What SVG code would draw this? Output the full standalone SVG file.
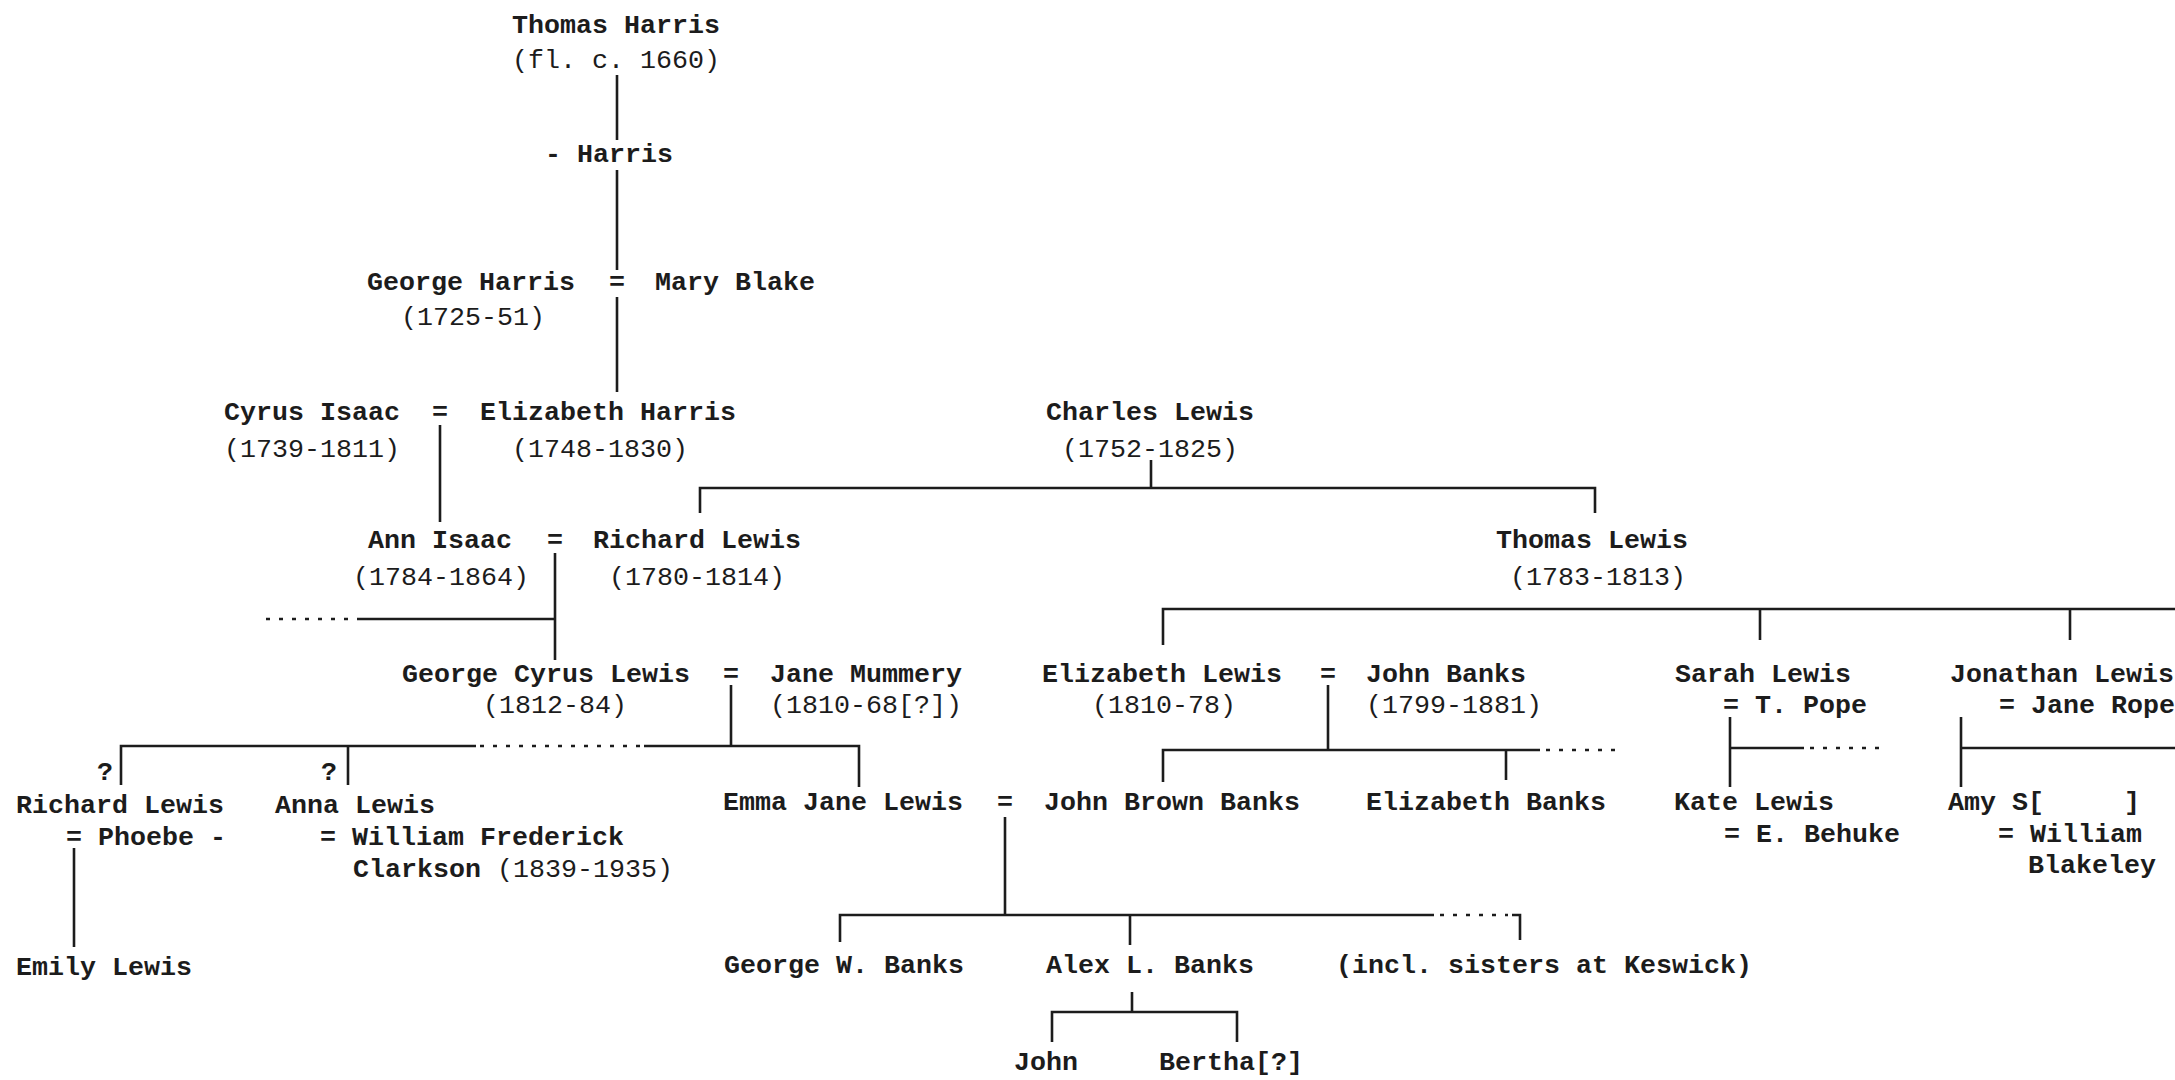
<svg xmlns="http://www.w3.org/2000/svg" width="2175" height="1080" viewBox="0 0 2175 1080">
<style>
text{font-family:"Liberation Mono","DejaVu Sans Mono",monospace;font-size:26.67px;fill:#1c1c1c}
.n{font-weight:bold}
.d{font-weight:normal}
.eq{font-weight:bold;text-anchor:middle}
#connectors path{fill:none;stroke:#1c1c1c;stroke-width:2.6}
#connectors path.dot{stroke-dasharray:4 9}
</style>
<rect width="2175" height="1080" fill="#ffffff"/>
<g id="connectors">
<path d="M617,75 V140"/>
<path d="M617,170 V270"/>
<path d="M617,297 V392"/>
<path d="M440,425 V522"/>
<path d="M1151,460 V488"/>
<path d="M700,513 V488 H1595 V513"/>
<path d="M555,553 V660"/>
<path class="dot" d="M266,619 H359"/>
<path d="M359,619 H555"/>
<path d="M731,685 V746"/>
<path d="M121,785 V746 H476"/>
<path class="dot" d="M480,746 H644"/>
<path d="M644,746 H859 V787"/>
<path d="M348,746 V785"/>
<path d="M1163,645 V609 H2175"/>
<path d="M1760,609 V640"/>
<path d="M2070,609 V640"/>
<path d="M1328,685 V750"/>
<path d="M1163,782 V750 H1540"/>
<path class="dot" d="M1546,750 H1622"/>
<path d="M1506,750 V780"/>
<path d="M1730,717 V787"/>
<path d="M1730,748 H1804"/>
<path class="dot" d="M1810,748 H1887"/>
<path d="M1961,717 V787"/>
<path d="M1961,748 H2175"/>
<path d="M1005,817 V915"/>
<path d="M840,942 V915 H1434"/>
<path class="dot" d="M1440,915 H1508"/>
<path d="M1512,915 H1520 V940"/>
<path d="M1130,915 V945"/>
<path d="M1132,992 V1012"/>
<path d="M1052,1042 V1012 H1237 V1042"/>
<path d="M74,848 V947"/>
</g>
<g id="thomas-harris"><text class="n" x="512" y="33">Thomas Harris</text><text class="d" x="512" y="68">(fl. c. 1660)</text></g>
<g id="harris"><text class="n" x="545" y="162">- Harris</text></g>
<g id="george-harris"><text class="n" x="367" y="290">George Harris</text><text class="d" x="401" y="325">(1725-51)</text></g>
<g id="m1"><text class="eq" x="617" y="290">=</text></g>
<g id="mary-blake"><text class="n" x="655" y="290">Mary Blake</text></g>
<g id="cyrus-isaac"><text class="n" x="224" y="420">Cyrus Isaac</text><text class="d" x="224" y="457">(1739-1811)</text></g>
<g id="m2"><text class="eq" x="440" y="420">=</text></g>
<g id="elizabeth-harris"><text class="n" x="480" y="420">Elizabeth Harris</text><text class="d" x="512" y="457">(1748-1830)</text></g>
<g id="charles-lewis"><text class="n" x="1046" y="420">Charles Lewis</text><text class="d" x="1062" y="457">(1752-1825)</text></g>
<g id="ann-isaac"><text class="n" x="368" y="548">Ann Isaac</text><text class="d" x="353" y="585">(1784-1864)</text></g>
<g id="m3"><text class="eq" x="555" y="548">=</text></g>
<g id="richard-lewis"><text class="n" x="593" y="548">Richard Lewis</text><text class="d" x="609" y="585">(1780-1814)</text></g>
<g id="thomas-lewis"><text class="n" x="1496" y="548">Thomas Lewis</text><text class="d" x="1510" y="585">(1783-1813)</text></g>
<g id="george-cyrus-lewis"><text class="n" x="402" y="682">George Cyrus Lewis</text><text class="d" x="483" y="713">(1812-84)</text></g>
<g id="m4"><text class="eq" x="731" y="682">=</text></g>
<g id="jane-mummery"><text class="n" x="770" y="682">Jane Mummery</text><text class="d" x="770" y="713">(1810-68[?])</text></g>
<g id="elizabeth-lewis"><text class="n" x="1042" y="682">Elizabeth Lewis</text><text class="d" x="1092" y="713">(1810-78)</text></g>
<g id="m5"><text class="eq" x="1328" y="682">=</text></g>
<g id="john-banks"><text class="n" x="1366" y="682">John Banks</text><text class="d" x="1366" y="713">(1799-1881)</text></g>
<g id="sarah-lewis"><text class="n" x="1675" y="682">Sarah Lewis</text><text class="n" x="1723" y="713">= T. Pope</text></g>
<g id="jonathan-lewis"><text class="n" x="1950" y="682">Jonathan Lewis</text><text class="n" x="1999" y="713">= Jane Rope</text></g>
<g id="richard-lewis-2"><text class="n" x="97" y="780">?</text><text class="n" x="16" y="813">Richard Lewis</text><text class="n" x="66" y="845">= Phoebe -</text></g>
<g id="anna-lewis"><text class="n" x="321" y="780">?</text><text class="n" x="275" y="813">Anna Lewis</text><text class="n" x="320" y="845">= William Frederick</text><text class="n" x="353" y="877">Clarkson <tspan class="d">(1839-1935)</tspan></text></g>
<g id="emma-jane-lewis"><text class="n" x="723" y="810">Emma Jane Lewis</text></g>
<g id="m6"><text class="eq" x="1005" y="810">=</text></g>
<g id="john-brown-banks"><text class="n" x="1044" y="810">John Brown Banks</text></g>
<g id="elizabeth-banks"><text class="n" x="1366" y="810">Elizabeth Banks</text></g>
<g id="kate-lewis"><text class="n" x="1674" y="810">Kate Lewis</text><text class="n" x="1724" y="842">= E. Behuke</text></g>
<g id="amy-s"><text class="n" x="1948" y="810" xml:space="preserve">Amy S[     ]</text><text class="n" x="1998" y="842">= William</text><text class="n" x="2028" y="873">Blakeley</text></g>
<g id="emily-lewis"><text class="n" x="16" y="975">Emily Lewis</text></g>
<g id="george-w-banks"><text class="n" x="724" y="973">George W. Banks</text></g>
<g id="alex-l-banks"><text class="n" x="1046" y="973">Alex L. Banks</text></g>
<g id="incl-sisters"><text class="n" x="1336" y="973">(incl. sisters at Keswick)</text></g>
<g id="john"><text class="n" x="1014" y="1070">John</text></g>
<g id="bertha"><text class="n" x="1159" y="1070">Bertha[?]</text></g>
</svg>
